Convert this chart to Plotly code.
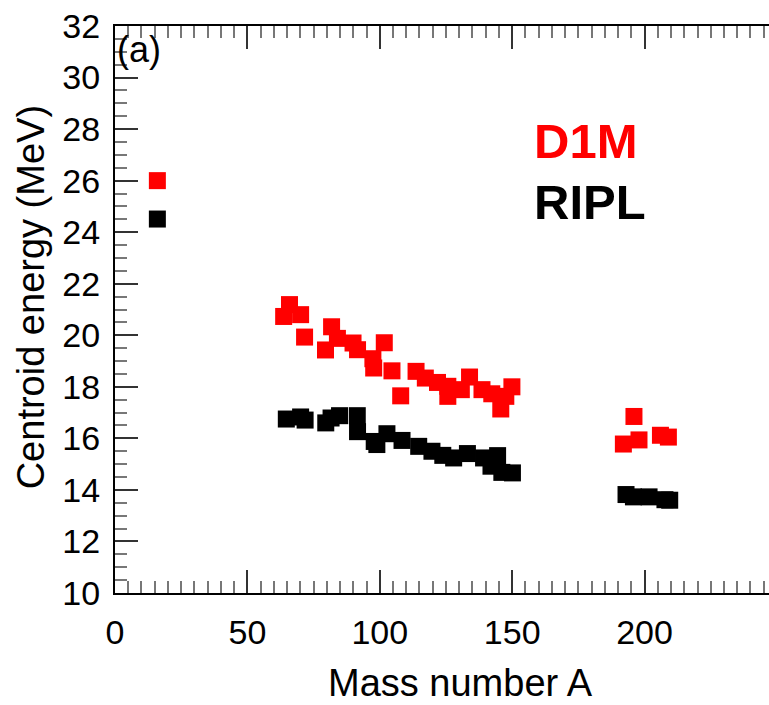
import plotly.graph_objects as go

# D1M (red) and RIPL (black) centroid energies vs mass number
d1m_A = [16, 63.7, 65.9, 70.1, 71.6, 79.5, 81.8, 84.0, 89.9, 91.6, 97.4, 97.7, 101.7,
         104.6, 107.9, 113.7, 117.2, 121.8, 125.7, 125.7, 130.8, 133.9, 138.6, 142.3,
         145.7, 147.6, 149.9, 192.0, 196.0, 197.9, 206.0, 209.0]
d1m_E = [26.0, 20.73, 21.19, 20.8, 19.93, 19.43, 20.33, 19.88, 19.7, 19.44, 19.09, 18.73,
         19.71, 18.62, 17.65, 18.6, 18.34, 18.17, 18.02, 17.63, 17.89, 18.38, 17.89, 17.73,
         17.14, 17.63, 18.0, 15.78, 16.85, 15.94, 16.12, 16.05]

ripl_A = [16, 64.7, 70.1, 71.8, 79.6, 81.6, 84.8, 91.5, 91.6, 97.9, 98.9, 102.7, 108.4,
          114.7, 119.7, 123.8, 127.9, 133.1, 139.2, 142.0, 144.5, 146.1, 150.1,
          193.0, 195.8, 201.7, 207.7, 209.5]
ripl_E = [24.51, 16.75, 16.83, 16.71, 16.6, 16.79, 16.88, 16.88, 16.26, 15.88, 15.76, 16.18,
          15.92, 15.69, 15.5, 15.34, 15.24, 15.41, 15.24, 14.92, 15.33, 14.68, 14.66,
          13.82, 13.73, 13.73, 13.62, 13.6]

x_ticks = [0, 50, 100, 150, 200]
y_ticks = [10, 12, 14, 16, 18, 20, 22, 24, 26, 28, 30, 32]

W, H = 769, 705
L, T, B = 114.5, 26, 111.5
FONT = "Liberation Sans, Arial, sans-serif"

fig = go.Figure()
fig.add_trace(go.Scatter(x=d1m_A, y=d1m_E, mode="markers",
                         marker=dict(symbol="square", size=17, color="#ff0000", line=dict(width=0)),
                         name="D1M"))
fig.add_trace(go.Scatter(x=ripl_A, y=ripl_E, mode="markers",
                         marker=dict(symbol="square", size=17, color="#000000", line=dict(width=0)),
                         name="RIPL"))

pw = W - L
ph = H - T - B
def px(x):
    return (x - L) / pw
def py(y):
    return 1 - (y - T) / ph

fig.add_annotation(x=px(532), y=py(141.5), xref="paper", yref="paper", text="<b>D1M</b>",
                   showarrow=False, xanchor="left", yanchor="middle",
                   font=dict(family=FONT, size=49, color="#ff0000"))
fig.add_annotation(x=px(532), y=py(202), xref="paper", yref="paper", text="<b>RIPL</b>",
                   showarrow=False, xanchor="left", yanchor="middle",
                   font=dict(family=FONT, size=49, color="#000000"))
fig.add_annotation(x=px(115), y=py(50), xref="paper", yref="paper", text="(a)",
                   showarrow=False, xanchor="left", yanchor="middle",
                   font=dict(family=FONT, size=36, color="#000000"))
# axis titles
fig.add_annotation(x=px(460), y=py(684), xref="paper", yref="paper", text="Mass number A",
                   showarrow=False, xanchor="center", yanchor="middle",
                   font=dict(family=FONT, size=38, color="#000000"))
fig.add_annotation(x=px(30), y=py(298), xref="paper", yref="paper", text="Centroid energy (MeV)",
                   showarrow=False, xanchor="center", yanchor="middle", textangle=-90,
                   font=dict(family=FONT, size=38, color="#000000"))

fig.update_layout(
    width=W, height=H,
    margin=dict(l=L, r=0, t=T, b=B, pad=0),
    paper_bgcolor="white", plot_bgcolor="white",
    showlegend=False,
    font=dict(family=FONT, color="#000000"),
    xaxis=dict(range=[0, 247], tickvals=x_ticks, ticks="inside", ticklen=23, tickwidth=1.5,
               tickcolor="#333333", showline=True, linecolor="#000000", linewidth=2,
               mirror="ticks", showgrid=False, zeroline=False,
               tickfont=dict(size=34, family=FONT), ticklabelstandoff=8,
               minor=dict(dtick=5, ticks="inside", ticklen=12, tickwidth=1.5, tickcolor="#777777", showgrid=False)),
    yaxis=dict(range=[10, 32], tickvals=y_ticks, ticks="inside", ticklen=23, tickwidth=1.5,
               tickcolor="#333333", showline=True, linecolor="#000000", linewidth=2,
               mirror=False, showgrid=False, zeroline=False,
               tickfont=dict(size=34, family=FONT), ticklabelstandoff=6,
               minor=dict(dtick=0.5, ticks="inside", ticklen=12, tickwidth=1.5, tickcolor="#777777", showgrid=False)),
)

fig.write_html("out.html")
